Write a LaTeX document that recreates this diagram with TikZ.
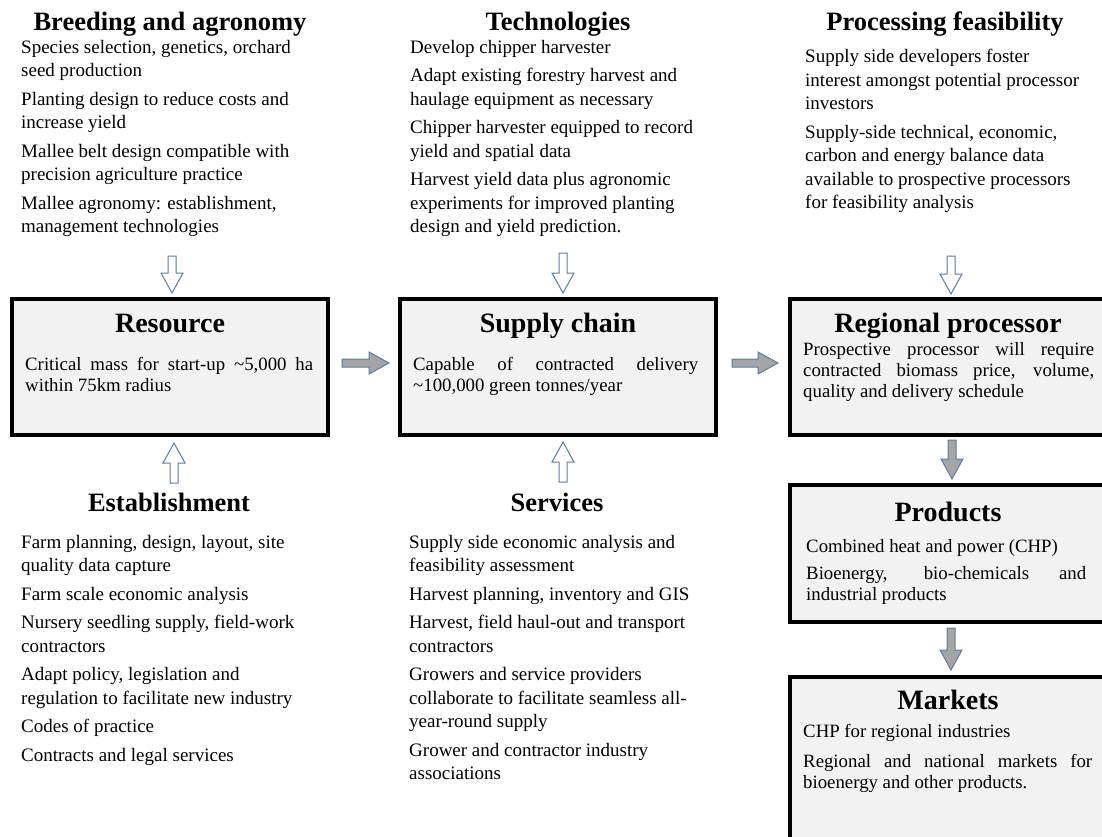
\documentclass[tikz,border=0pt]{standalone}
\usepackage{fontspec}
\setmainfont{Liberation Serif}
\usepackage{tikz}
\usetikzlibrary{positioning}

\definecolor{boxgray}{HTML}{F2F2F2}
\definecolor{arrowline}{HTML}{5B7BA6}
\definecolor{arrowfill}{HTML}{A5A5A5}

\tikzset{
  box/.style={draw, line width=3.5pt, fill=boxgray, minimum width=316pt, anchor=north west, inner sep=0pt, outer sep=0pt},
  boxtitle/.style={font=\fontsize{28}{32}\selectfont\bfseries, inner sep=0pt, text height=20pt, text depth=6pt, anchor=north},
  boxtext/.style={font=\fontsize{18.8}{21}\selectfont, align=left, inner sep=0pt, anchor=north west},
  head/.style={font=\fontsize{26.5}{30}\selectfont\bfseries, inner sep=0pt, anchor=base},
  body/.style={font=\fontsize{19}{23.5}\selectfont, align=left, inner sep=0pt, anchor=north west},
  openarrow/.style={draw=arrowline, fill=white, line width=1pt},
  grayarrow/.style={draw=arrowline, fill=arrowfill, line width=1pt}
}

% block arrows: style, tail, tip (and 1 = down, -1 = up)
\newcommand{\vblock}[4]{%
  \draw[#1] ([xshift=-4pt]#2) -- ([xshift=4pt]#2) -- ([xshift=4pt,yshift=#4*20pt]#3) -- ([xshift=11pt,yshift=#4*20pt]#3) -- (#3) -- ([xshift=-11pt,yshift=#4*20pt]#3) -- ([xshift=-4pt,yshift=#4*20pt]#3) -- cycle;}
\newcommand{\hblock}[3]{%
  \draw[#1] ([yshift=4pt]#2) -- ([yshift=-4pt]#2) -- ([xshift=-20pt,yshift=-4pt]#3) -- ([xshift=-20pt,yshift=-11pt]#3) -- (#3) -- ([xshift=-20pt,yshift=11pt]#3) -- ([xshift=-20pt,yshift=4pt]#3) -- cycle;}

\begin{document}
\begin{tikzpicture}[x=1pt,y=-1pt]
\useasboundingbox (0,0) rectangle (1102,836);
\fill[white] (0,0) rectangle (1102,836);

% top row
\node[head] (breed) at (170,30.6) {Breeding and agronomy};
\node[body] (breedtext) at (21,40) {Species selection, genetics, orchard\\seed production\\[5pt]
Planting design to reduce costs and\\increase yield\\[5pt]
Mallee belt design compatible with\\precision agriculture practice\\[5pt]
Mallee agronomy: establishment,\\management technologies};

\node[head] (tech) at (558,30.6) {Technologies};
\node[body] (techtext) at (410,40) {Develop chipper harvester\\[5pt]
Adapt existing forestry harvest and\\haulage equipment as necessary\\[5pt]
Chipper harvester equipped to record\\yield and spatial data\\[5pt]
Harvest yield data plus agronomic\\experiments for improved planting\\design and yield prediction.};

\node[head] (feas) at (945,30.6) {Processing feasibility};
\node[body] (feastext) at (805,49) {Supply side developers foster\\interest amongst potential processor\\investors\\[5pt]
Supply-side technical, economic,\\carbon and energy balance data\\available to prospective processors\\for feasibility analysis};

% boxes
\node[box, minimum height=136pt] (resource) at (12,299) {};
\node[boxtitle, below=13.3pt of resource.north] (resourcetitle) {Resource};
\node[boxtext, below right=58pt and 13pt of resource.north west] (resourcetext) {\makebox[288pt][s]{Critical mass for start-up \textasciitilde5,000 ha}\\within 75km radius};

\node[box, minimum height=136pt] (supply) at (400,299) {};
\node[boxtitle, below=13.3pt of supply.north] (supplytitle) {Supply chain};
\node[boxtext, below right=58pt and 13pt of supply.north west] (supplytext) {\makebox[285pt][s]{Capable of contracted delivery}\\\textasciitilde100,000 green tonnes/year};

\node[box, minimum height=136pt] (regional) at (790,299) {};
\node[boxtitle, below=13.3pt of regional.north] (regionaltitle) {Regional processor};
\node[boxtext, below right=43.5pt and 13pt of regional.north west] (regionaltext) {\makebox[291pt][s]{Prospective processor will require}\\\makebox[291pt][s]{contracted biomass price, volume,}\\quality and delivery schedule};

\node[box, minimum height=137pt] (products) at (790,485) {};
\node[boxtitle, below=16.3pt of products.north] (productstitle) {Products};
\node[boxtext, below right=54.5pt and 16pt of products.north west] (productstext) {Combined heat and power (CHP)\\[6pt]\makebox[280pt][s]{Bioenergy, bio-chemicals and}\\industrial products};

\node[box, minimum height=200pt] (markets) at (790,677) {};
\node[boxtitle, below=12.3pt of markets.north] (marketstitle) {Markets};
\node[boxtext, below right=47.5pt and 13pt of markets.north west] (marketstext) {CHP for regional industries\\[9pt]\makebox[289pt][s]{Regional and national markets for}\\bioenergy and other products.};

% bottom row
\node[head] (estab) at (169,511.6) {Establishment};
\node[body] (estabtext) at (21,535) {Farm planning, design, layout, site\\quality data capture\\[5pt]
Farm scale economic analysis\\[5pt]
Nursery seedling supply, field-work\\contractors\\[5pt]
Adapt policy, legislation and\\regulation to facilitate new industry\\[5pt]
Codes of practice\\[5pt]
Contracts and legal services};

\node[head] (serv) at (557,511.6) {Services};
\node[body] (servtext) at (409,535) {Supply side economic analysis and\\feasibility assessment\\[5pt]
Harvest planning, inventory and GIS\\[5pt]
Harvest, field haul-out and transport\\contractors\\[5pt]
Growers and service providers\\collaborate to facilitate seamless all-\\year-round supply\\[5pt]
Grower and contractor industry\\associations};

% % % % % % % % % % % % % % % % % % % % % % % % % %

\coordinate (breedtail) at (172,256);   \coordinate (breedtip) at (172,293);
\coordinate (techtail) at (563,253);    \coordinate (techtip) at (563,293);
\coordinate (feastail) at (951,256);    \coordinate (feastip) at (951,294);
\coordinate (estabtail) at (174,483);   \coordinate (estabtip) at (174,443);
\coordinate (servtail) at (563,482);    \coordinate (servtip) at (563,442);
\coordinate (restail) at (342,363);     \coordinate (restip) at (389,363);
\coordinate (suptail) at (732,363);     \coordinate (suptip) at (778,363);
\coordinate (regtail) at (952,440);     \coordinate (regtip) at (952,479);
\coordinate (prodtail) at (951,628);    \coordinate (prodtip) at (951,670);

\vblock{openarrow}{breedtail}{breedtip}{1}
\vblock{openarrow}{techtail}{techtip}{1}
\vblock{openarrow}{feastail}{feastip}{1}
\vblock{openarrow}{estabtail}{estabtip}{-1}
\vblock{openarrow}{servtail}{servtip}{-1}
\hblock{grayarrow}{restail}{restip}
\hblock{grayarrow}{suptail}{suptip}
\vblock{grayarrow}{regtail}{regtip}{1}
\vblock{grayarrow}{prodtail}{prodtip}{1}
\end{tikzpicture}
\end{document}
